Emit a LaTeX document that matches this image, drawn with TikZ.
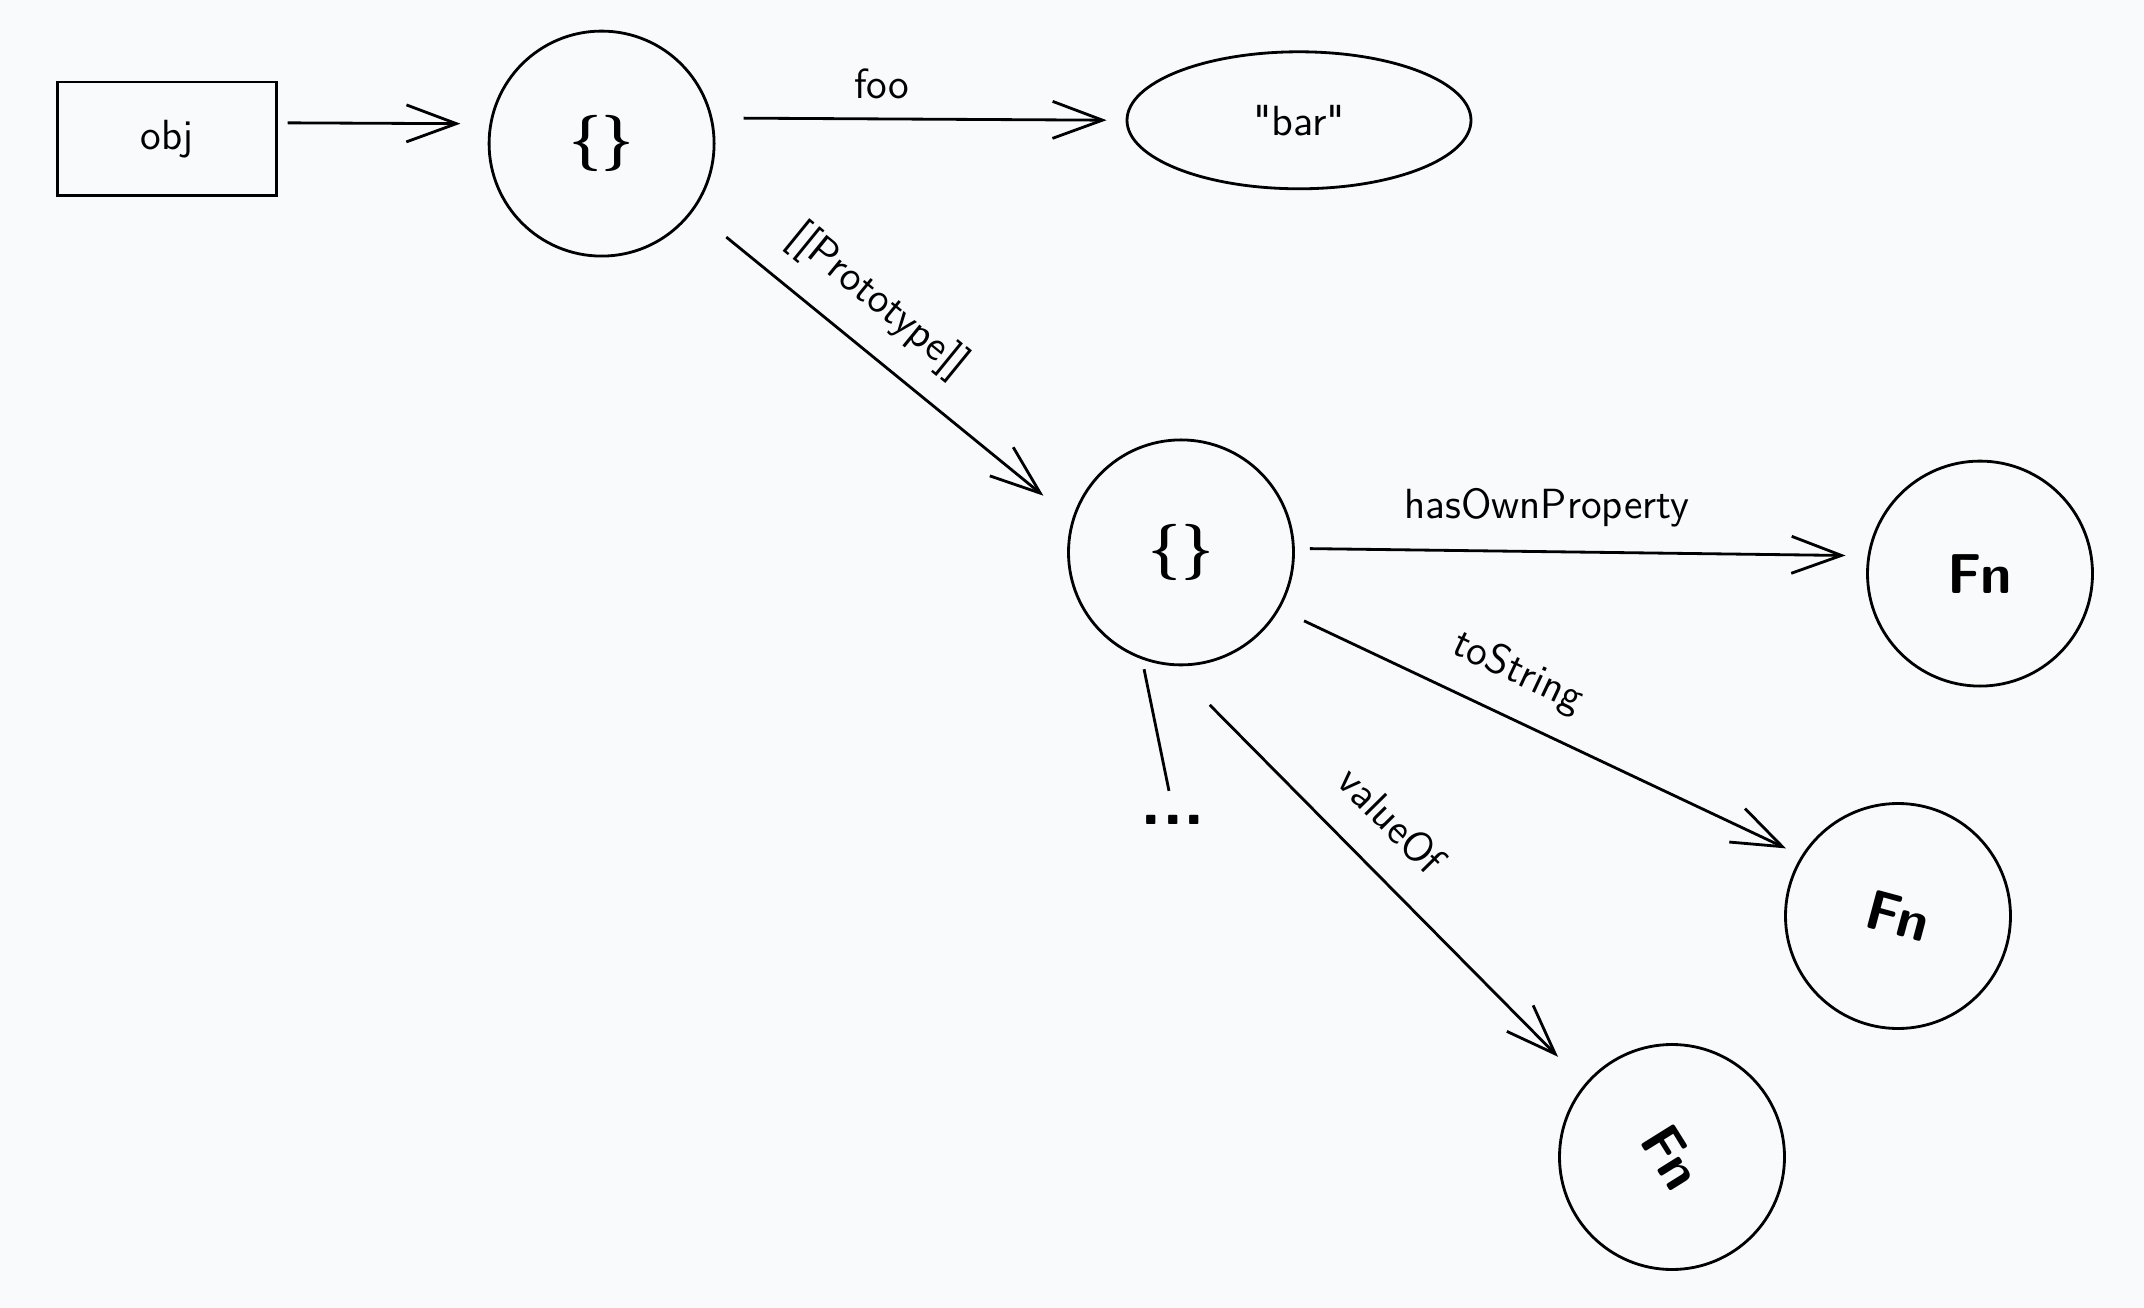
\documentclass[tikz,border=0pt]{standalone}
\usepackage{amsmath}
\usepackage{fontspec}
\usepackage{tikz}
\usetikzlibrary{arrows.meta,shapes.geometric}

\newfontfamily\plainsans{lmsans10-regular.otf}
\definecolor{paper}{RGB}{249,250,251}

\begin{document}
\begin{tikzpicture}[font=\sffamily,line width=0.8pt,
        blob/.style={circle,draw,inner sep=0pt,minimum size=2.25cm,font=\sffamily\fontsize{16}{16}\selectfont\bfseries},
        link/.style={-{Straight Barb[length=5mm,width=3.7mm]}},
        lbl/.style={font=\sffamily\fontsize{12}{12}\selectfont,inner sep=1pt}]
        \fill[paper] (0,0) rectangle (21.44,-13.08);

        \node[draw,minimum width=2.19cm,minimum height=1.135cm,inner sep=0pt,lbl] (obj) at (1.668,-1.388) {obj};
        \node[blob] (objlit) at (6.016,-1.436) {\{\}};
        \node[ellipse,draw,inner sep=0pt,minimum width=3.44cm,minimum height=1.37cm,lbl] (bar) at (12.99,-1.203) {\plainsans "bar"};
        \node[blob] (proto) at (11.81,-5.524) {\{\}};
        \node[blob] (fnown) at (19.80,-5.736) {Fn};
        \node[blob] (fnstr) at (18.98,-9.16) {\rotatebox{-15}{Fn}};
        \node[blob] (fnval) at (16.72,-11.57) {\rotatebox{-58}{Fn}};
        \node[inner sep=1pt,font=\sffamily\fontsize{20}{20}\selectfont\bfseries] (more) at (11.73,-8.2) {...};

        \draw[link,shorten <=1mm,shorten >=2.9mm] ([yshift=1.6mm]obj.east) -- (objlit.170);
        \draw[link,shorten <=3.1mm,shorten >=1.9mm] (objlit.13) -- node[lbl,pos=0.41,above=1.5mm]{foo} (bar.west);
        \draw[link,shorten <=4.2mm,shorten >=3.7mm] (objlit.-36.5) -- node[lbl,sloped,pos=0.41,above=2mm]{[[Prototype]]} (proto.163);
        \draw[link,shorten <=1.5mm,shorten >=2.2mm] (proto.2) -- node[lbl,pos=0.44,above=2mm]{hasOwnProperty} (fnown.171);
        \draw[link,shorten <=2.7mm,shorten >=1.7mm] (proto.-30) -- node[lbl,sloped,pos=0.42,above=2mm]{toString} (fnstr.148);
        \draw[link,shorten <=5.5mm,shorten >=3.8mm] (proto.-95) -- node[lbl,sloped,pos=0.45,above=2.8mm]{valueOf} (fnval.140);
        \draw[shorten <=1mm,shorten >=2mm] (proto.-110) -- (more.north);
    \end{tikzpicture}
\end{document}
